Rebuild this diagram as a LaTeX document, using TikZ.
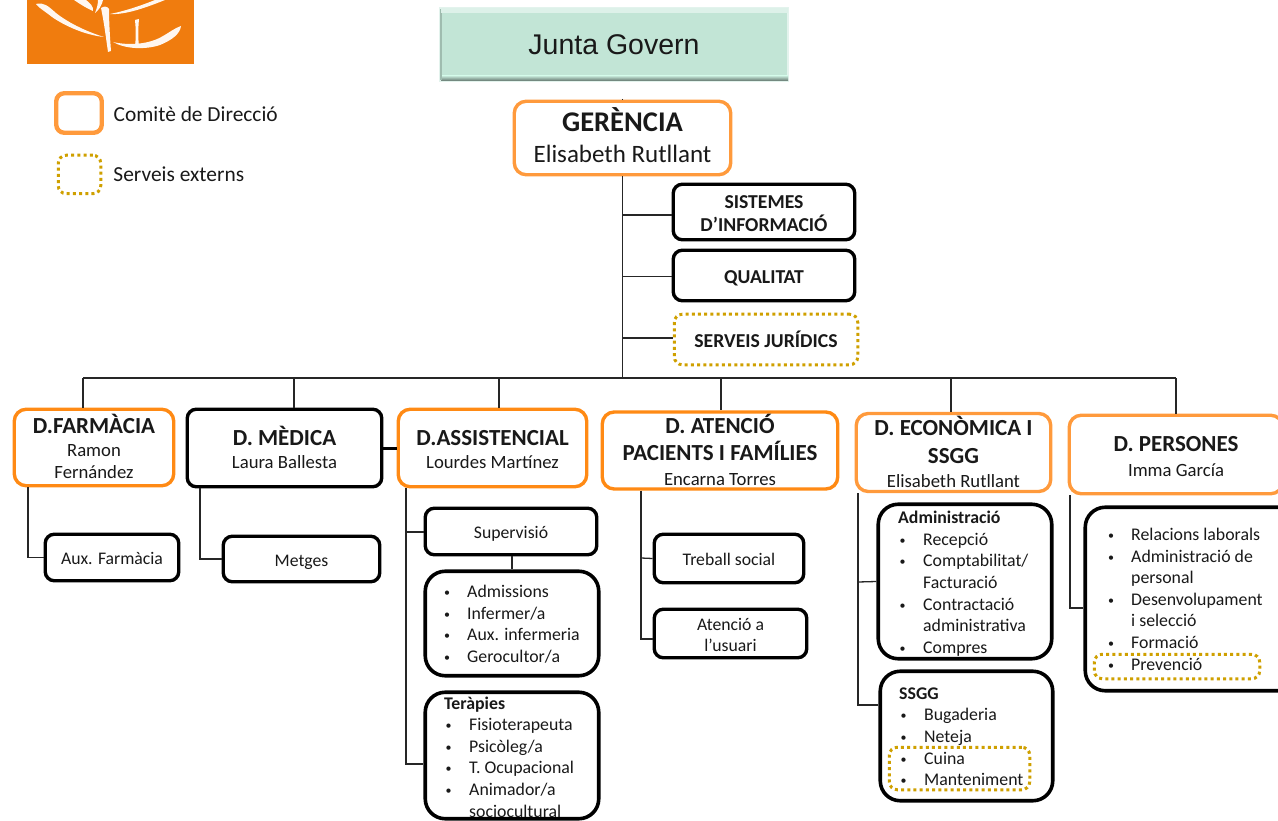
\documentclass[tikz,border=0pt]{standalone}
\usepackage{fontspec}
\setmainfont{Carlito}
\newfontfamily\arialf{Liberation Sans}
\usetikzlibrary{positioning}
\definecolor{orA}{HTML}{FF9A3C}
\definecolor{orB}{HTML}{FF8A14}
\definecolor{goldd}{HTML}{CFA000}
\definecolor{logoor}{HTML}{F07C0E}
\definecolor{juntaf}{HTML}{C2E5D6}
\newcommand{\fs}[2]{\fontsize{#1}{#2}\selectfont}
\newcommand{\bulletmark}{\raisebox{1pt}{\fontsize{12}{12}\selectfont •}}
\newcommand{\bu}[1]{\makebox[26pt][l]{\hspace{3pt}\bulletmark}#1}
\newcommand{\bv}[1]{\makebox[25pt][l]{\hspace{1.5pt}\bulletmark}#1}
\newcommand{\cn}[1]{\hspace*{26pt}#1}
\newcommand{\cv}[1]{\hspace*{25pt}#1}
% one centred text line: size, line height, text
\newcommand{\tl}[3]{\hbox to 0pt{\hss\fs{#1}{#1}\vrule width 0pt height \dimexpr#2pt*72/100+2.5pt\relax depth \dimexpr#2pt*28/100-2.5pt\relax #3\hss}}
\newcommand{\tb}[3]{\tl{#1}{#2}{\bfseries #3}}
\newcommand{\stk}[1]{\vbox{\offinterlineskip #1}}
\newcommand{\boxat}[7]{% name, style, x0,y0,x1,y1, text
  \node[#2,minimum width={#5-#3-2.5},minimum height={#6-#4-2.5},inner sep=0pt] (#1) at ({(#3+#5)/2},{(#4+#6)/2}) {#7};}
\tikzset{x=1pt,y=-1pt,
 every node/.style={text=black!90},
 blk/.style={draw=black,line width=3.4pt,rounded corners=9pt,fill=white},
 blkr/.style={draw=black,line width=3.6pt,rounded corners=20pt,fill=white},
 ora/.style={draw=orA,line width=3.4pt,rounded corners=12pt,fill=white},
 orb/.style={draw=orB,line width=3.4pt,rounded corners=12pt,fill=white},
 dot/.style={draw=goldd,line width=3pt,dash pattern=on 3pt off 3.2pt,rounded corners=8pt},
 conn/.style={draw=black!85,line width=1.3pt},
 lst/.style={anchor=north west,align=left,inner sep=0pt,font=\fs{17.8}{21.6}},
 logoink/.style={fill=white!94!orange},
}
\begin{document}
\begin{tikzpicture}
\useasboundingbox (0,0) rectangle (1278,821);
% logo
\fill[logoor] (27,0) rectangle (194,64);
\fill[logoink] (36,4) .. controls (44,2) and (48,6) .. (56,13) .. controls (70,24) and (88,32) .. (104,37) .. controls (85,35) and (65,26) .. (52,17) .. controls (46,12) and (40,9) .. (36,4) -- cycle;
\fill[logoink] (113,42) .. controls (130,46) and (150,44) .. (163,36) .. controls (170,32) and (175,28) .. (181,26) .. controls (180,34) and (172,40) .. (160,45) .. controls (145,50) and (125,49) .. (113,42) -- cycle;
\fill[logoink] (101,8) .. controls (104,6) and (107,6) .. (109,9) .. controls (109,22) and (110,38) .. (111,51) -- (108,52) .. controls (106,38) and (104,22) .. (101,8) -- cycle;
\fill[logoink] (135,20) -- (139,19) .. controls (138,30) and (138,38) .. (139,46) -- (135,46) .. controls (136,38) and (136,30) .. (135,20) -- cycle;
\fill[logoink] (110,14) .. controls (125,15) and (145,8) .. (165,0) -- (155,0) .. controls (140,6) and (125,11) .. (110,14) -- cycle;
\fill[logoink] (74,0) .. controls (80,4) and (86,8) .. (93,11) .. controls (94,7) and (90,3) .. (86,0) -- cycle;
\fill[logoink] (95,13) .. controls (97,8) and (98,4) .. (98,0) -- (103,0) .. controls (102,5) and (99,10) .. (95,13) -- cycle;
% Junta
\fill[juntaf!45!white] (439,7) rectangle (789,82.5);
\node[fill=juntaf,minimum width=346pt,minimum height=71pt,inner sep=0pt,font=\arialf\fs{28.5}{32}] (junta) at (614,44.5) {Junta Govern};
\shade[top color=juntaf,bottom color=black!50!juntaf] (441,76) rectangle (788,81);
\fill[black!18!juntaf] (440,9) rectangle (442,80);
\fill[white!45!juntaf] (441,8.5) rectangle (788,13);
\coordinate (tick) at (622.5,99);
\coordinate (busL) at (83,378);
\coordinate (busR) at (1176,378);
% boxes
\boxat{ger}{ora}{513}{100}{732}{176}{\stk{\tb{28.5}{31}{GERÈNCIA}\tl{25}{31}{Elisabeth Rutllant}}}
\boxat{sis}{blk}{672}{183}{856}{241}{\stk{\tb{19.7}{23}{SISTEMES}\tb{19.7}{23}{D’INFORMACIÓ}}}
\boxat{qua}{blk}{672}{249}{856}{302}{\stk{\tb{19.7}{23}{QUALITAT}}}
\boxat{jur}{dot}{673}{313}{859}{366}{\stk{\tb{19.7}{23}{SERVEIS JURÍDICS}}}
\boxat{far}{orb}{13}{408}{175}{487}{\stk{\tb{23}{25}{D.FARMÀCIA}\tl{18.7}{22}{Ramon}\tl{18.7}{22}{Fernández}}}
\boxat{med}{blk}{186}{408}{383}{488}{\stk{\tb{23}{27}{D. MÈDICA}\tl{18.7}{22}{Laura Ballesta}}}
\boxat{ass}{orb}{397}{408}{588}{488}{\stk{\tb{23}{27}{D.ASSISTENCIAL}\tl{18.7}{22}{Lourdes Martínez}}}
\boxat{ate}{orb}{601}{411}{839}{490}{\stk{\tb{23}{27}{D. ATENCIÓ}\tb{23}{27}{PACIENTS I FAMÍLIES}\tl{18.7}{23}{Encarna Torres}}}
\boxat{eco}{ora}{855}{413}{1052}{492}{\stk{\tb{23}{27}{D. ECONÒMICA I}\tb{23}{28}{SSGG}\tl{18.7}{23}{Elisabeth Rutllant}}}
\boxat{per}{ora}{1068}{414}{1284}{495}{\stk{\tb{23}{29}{D. PERSONES}\tl{18.7}{23}{Imma García}}}
\boxat{aux}{blk}{44}{533}{180}{582}{\stk{\tl{17.7}{21}{Aux. Farmàcia}}}
\boxat{met}{blk}{222}{535}{381}{583}{\stk{\tl{17.7}{21}{Metges}}}
\boxat{sup}{blk}{424}{507}{598}{556}{\stk{\tl{17.7}{21}{Supervisió}}}
\boxat{adm}{blkr}{424}{570}{600}{677}{}
\boxat{ter}{blkr}{424}{691}{600}{820}{}
\boxat{tre}{blk}{653}{533}{805}{584}{\stk{\tl{17.7}{21}{Treball social}}}
\boxat{usu}{blk}{653}{608}{808}{659}{\stk{\tl{17.7}{21}{Atenció a}\tl{17.7}{21}{l’usuari}}}
\boxat{adb}{blkr}{877}{503}{1053}{660}{}
\boxat{ssg}{blkr}{879}{670}{1054}{802}{}
\boxat{rel}{blkr}{1084}{506}{1300}{692}{}
% lists
\node[lst] (l1) at (441,585) {\bu{Admissions}\\\bu{Infermer/a}\\\bu{Aux. infermeria}\\\bu{Gerocultor/a}};
\node[lst] (l2) at (444,696.5) {\textbf{Teràpies}\\\bv{Fisioterapeuta}\\\bv{Psicòleg/a}\\\bv{T. Ocupacional}\\\bv{Animador/a}\\\cv{sociocultural}};
\node[lst] (l3) at (898,511) {\textbf{Administració}\\\bv{Recepció}\\\bv{Comptabilitat/}\\\cv{Facturació}\\\bv{Contractació}\\\cv{administrativa}\\\bv{Compres}};
\node[lst] (l4) at (899,687.5) {\textbf{SSGG}\\\bv{Bugaderia}\\\bv{Neteja}\\\bv{Cuina}\\\bv{Manteniment}};
\node[lst] (l5) at (1105,528) {\bu{Relacions laborals}\\\bu{Administració de}\\\cn{personal}\\\bu{Desenvolupament}\\\cn{i selecció}\\\bu{Formació}\\\bu{Prevenció}};
% dotted highlight boxes
\boxat{dcu}{dot}{888}{746}{1031}{791}{}
\boxat{dpr}{dot}{1093}{653}{1261}{680}{}
% legend
\boxat{lega}{ora,line width=4.4pt,rounded corners=8pt}{55}{92}{103}{134}{}
\boxat{legb}{dot}{57}{154}{102}{195}{}
\node[right=9.5pt of lega,yshift=-1pt,inner sep=0pt,font=\fs{21.4}{25}] (lta) {Comitè de Direcció};
\node[right=11pt of legb,inner sep=0pt,font=\fs{21.4}{25}] (ltb) {Serveis externs};
% connectors
\draw[conn] (tick) -- (ger.north -| tick);
\draw[conn] (ger.south -| tick) -- (tick |- busL);
\foreach \n/\y in {sis/215,qua/276.5,jur/338}{ \draw[conn] (622.5,\y) -- (\n.west |- 0,\y); }
\draw[conn] (busL) -- (busR);
\foreach \n/\x in {far/83,med/294,ass/499,ate/721,eco/951,per/1176}{ \draw[conn] (\x,378) -- (\x,0 |- \n.north); }
\draw[draw=black,line width=3pt] (med.east) -- (ass.west);
\draw[conn] (far.south -| 28,0) |- (aux.west);
\draw[conn] (med.south -| 200,0) |- (met.west);
\draw[conn] (ass.south -| 406,0) |- (ter.west |- 0,764);
\draw[conn] (406,532) -- (sup.west |- 0,532);
\draw[draw=black!85,line width=2pt] (sup.south -| 512,0) -- (adm.north -| 512,0);
\draw[conn] (ate.south -| 641,0) |- (usu.west |- 0,639);
\draw[conn] (641,558) -- (tre.west);
\draw[conn] (eco.south -| 858,0) |- (ssg.west |- 0,705);
\draw[conn] (858,582) -- (adb.west);
\draw[conn] (per.south -| 1070,0) |- (rel.west |- 0,608);
\end{tikzpicture}
\end{document}
